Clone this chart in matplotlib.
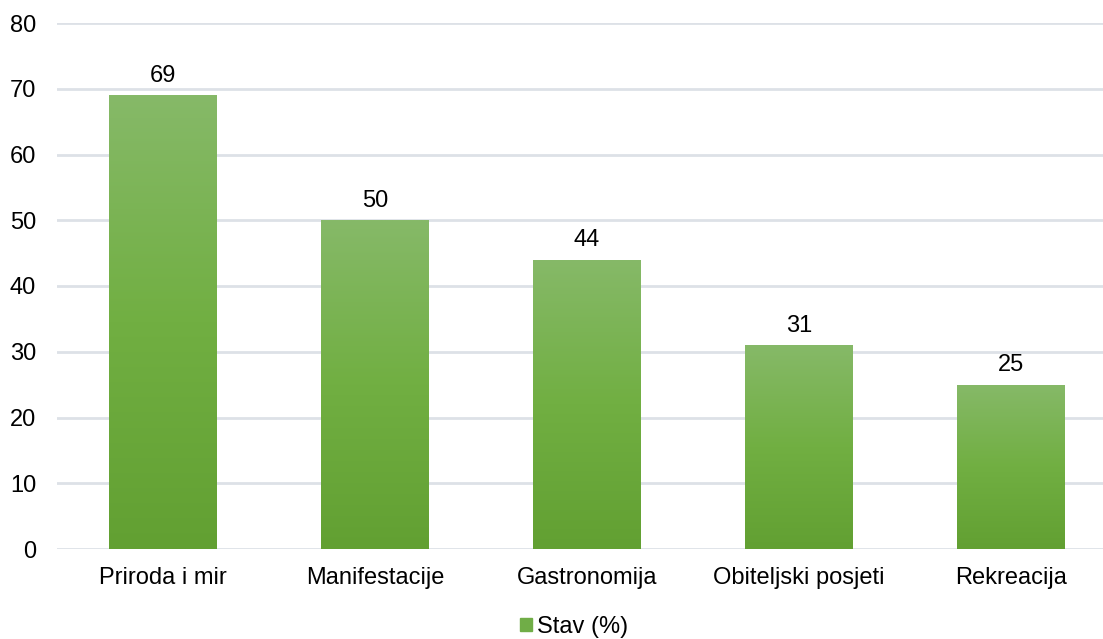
import numpy as np
import matplotlib.pyplot as plt
from matplotlib.colors import LinearSegmentedColormap
from matplotlib.patches import Patch

kategorije = ['Priroda i mir', 'Manifestacije', 'Gastronomija', 'Obiteljski posjeti', 'Rekreacija']
vrijednosti = [69, 50, 44, 31, 25]
serija = 'Stav (%)'

plt.rcParams['font.family'] = ['Liberation Sans', 'DejaVu Sans']

W, H = 1103, 639
fig = plt.figure(figsize=(W / 100, H / 100), dpi=100)
ax = fig.add_axes([57 / W, 90 / H, (1103 - 57) / W, (549 - 23) / H])

# gradijent odozgo (svjetlije) prema dolje (tamnije)
cmap = LinearSegmentedColormap.from_list('zelena', ['#62a032', '#71af42', '#86b968'])
grad = np.linspace(0, 1, 256).reshape(-1, 1)

x = np.arange(len(kategorije))
sirina = 0.505
stupci = ax.bar(x, vrijednosti, width=sirina, color='none', zorder=2)
for s, v in zip(stupci, vrijednosti):
    x0 = s.get_x()
    im = ax.imshow(grad, cmap=cmap, origin='lower', aspect='auto',
                   extent=(x0, x0 + sirina, 0, v), zorder=2)
    im.set_clip_path(s)
    ax.annotate(str(v), (s.get_x() + sirina / 2, v), xytext=(0, 6),
                textcoords='offset points', ha='center', va='bottom', fontsize=17)

ax.set_xlim(-0.5, 4.5 - 14 / 211.75)
ax.set_ylim(0, 80)
ax.set_yticks(range(0, 81, 10))
ax.set_xticks(x)
ax.set_xticklabels(kategorije)
ax.tick_params(length=0, labelsize=17)
ax.tick_params(axis='x', pad=13)
ax.tick_params(axis='y', pad=15)
ax.grid(axis='y', color='#dde1e7', linewidth=2, zorder=0)
ax.set_axisbelow(True)
for sp in ax.spines.values():
    sp.set_visible(False)

fig.legend(handles=[Patch(color='#70ad47', label=serija)], loc='center',
           bbox_to_anchor=(574 / W, 12 / H), frameon=False, fontsize=17,
           handlelength=0.5, handleheight=0.5, handletextpad=0.2)

fig.savefig('out.png', dpi=100)
